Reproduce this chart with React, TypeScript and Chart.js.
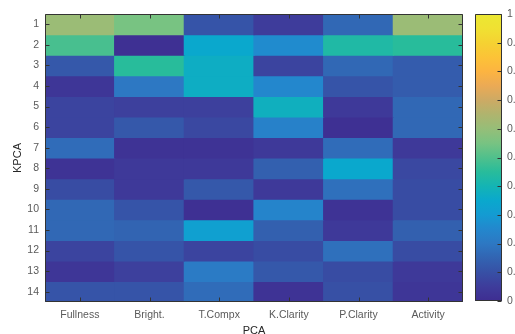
import { useEffect, useRef } from "react";
import { Chart, registerables } from "chart.js";

Chart.register(...registerables);

// ---- data ----
const columns = ["Fullness", "Bright.", "T.Compx", "K.Clarity", "P.Clarity", "Activity"];
const rowLabels = [1, 2, 3, 4, 5, 6, 7, 8, 9, 10, 11, 12, 13, 14];

const fullness = [0.61, 0.49, 0.12, 0.03, 0.07, 0.07, 0.17, 0.02, 0.09, 0.16, 0.16, 0.07, 0.03, 0.11];
const bright = [0.55, 0.01, 0.45, 0.2, 0.06, 0.12, 0.02, 0.04, 0.04, 0.11, 0.15, 0.11, 0.06, 0.11];
const tCompx = [0.11, 0.35, 0.37, 0.37, 0.06, 0.08, 0.02, 0.04, 0.12, 0.01, 0.32, 0.07, 0.21, 0.17];
const kClarity = [0.05, 0.26, 0.07, 0.25, 0.38, 0.23, 0.04, 0.14, 0.04, 0.24, 0.14, 0.09, 0.12, 0.02];
const pClarity = [0.16, 0.43, 0.16, 0.11, 0.04, 0.01, 0.17, 0.35, 0.18, 0.02, 0.04, 0.18, 0.09, 0.1];
const activity = [0.61, 0.45, 0.13, 0.13, 0.16, 0.16, 0.04, 0.08, 0.09, 0.09, 0.14, 0.09, 0.04, 0.03];

const matrix = [fullness, bright, tCompx, kClarity, pClarity, activity];

const colorbarTicks = [0, 0.1, 0.2, 0.3, 0.4, 0.5, 0.6, 0.7, 0.8, 0.9, 1];

// parula-like colormap (as rendered in the reference)
const cmapStops: number[][] = [
  [0.0, 62, 45, 145],
  [0.05, 62, 60, 155],
  [0.1, 55, 80, 165],
  [0.15, 50, 100, 178],
  [0.2, 45, 120, 195],
  [0.25, 35, 135, 205],
  [0.3, 20, 155, 210],
  [0.35, 10, 168, 205],
  [0.4, 20, 180, 180],
  [0.45, 40, 188, 155],
  [0.5, 80, 192, 140],
  [0.55, 120, 195, 130],
  [0.6, 150, 190, 120],
  [0.65, 175, 180, 110],
  [0.7, 205, 170, 100],
  [0.75, 235, 170, 85],
  [0.8, 252, 180, 65],
  [0.85, 252, 195, 55],
  [0.9, 245, 210, 50],
  [0.95, 240, 225, 50],
  [1.0, 235, 232, 50],
];

function cmap(v: number): string {
  const t = Math.max(0, Math.min(1, v));
  for (let i = 1; i < cmapStops.length; i++) {
    const a = cmapStops[i - 1];
    const b = cmapStops[i];
    if (t <= b[0]) {
      const f = (t - a[0]) / (b[0] - a[0]);
      const r = Math.round(a[1] + (b[1] - a[1]) * f);
      const g = Math.round(a[2] + (b[2] - a[2]) * f);
      const bl = Math.round(a[3] + (b[3] - a[3]) * f);
      return `rgb(${r},${g},${bl})`;
    }
  }
  const l = cmapStops[cmapStops.length - 1];
  return `rgb(${l[1]},${l[2]},${l[3]})`;
}

const FONT = "'Liberation Sans', Arial, Helvetica, sans-serif";
const TICK_COLOR = "#5a5a5a";
const TITLE_COLOR = "#262626";
const AXIS_COLOR = "#333333";

const framePlugin = {
  id: "frame",
  afterDatasetsDraw(chart: any) {
    const { ctx, chartArea } = chart;
    const { left, right, top, bottom } = chartArea;
    const xs = chart.scales.x;
    const ys = chart.scales.y;
    ctx.save();
    ctx.strokeStyle = AXIS_COLOR;
    ctx.lineWidth = 1;
    ctx.beginPath();
    const L = Math.round(left) + 0.5;
    const R = Math.round(right) - 0.5;
    const T = Math.round(top) + 0.5;
    const B = Math.round(bottom) - 0.5;
    ctx.rect(L, T, R - L, B - T);
    const tl = 4;
    columns.forEach((_, j) => {
      const x = Math.round(xs.getPixelForValue(j)) + 0.5;
      ctx.moveTo(x, T);
      ctx.lineTo(x, T + tl);
      ctx.moveTo(x, B);
      ctx.lineTo(x, B - tl);
    });
    rowLabels.forEach((r) => {
      const y = Math.round(ys.getPixelForValue(r)) + 0.5;
      ctx.moveTo(L, y);
      ctx.lineTo(L + tl, y);
      ctx.moveTo(R, y);
      ctx.lineTo(R - tl, y);
    });
    ctx.stroke();
    ctx.restore();
  },
};

const colorbarPlugin = {
  id: "colorbar",
  beforeDatasetsDraw(chart: any) {
    const { ctx, chartArea } = chart;
    const { left, right, top, bottom } = chartArea;
    const ys = chart.scales.y;
    const y0 = ys.getPixelForValue(0);
    const y1 = ys.getPixelForValue(1);
    const grad = ctx.createLinearGradient(0, y0, 0, y1);
    cmapStops.forEach((s) => grad.addColorStop(s[0], cmap(s[0])));
    ctx.save();
    ctx.fillStyle = grad;
    ctx.fillRect(left, top, right - left, bottom - top);
    ctx.strokeStyle = AXIS_COLOR;
    ctx.lineWidth = 1;
    const L = Math.round(left) + 0.5;
    const R = Math.round(right) - 0.5;
    const T = Math.round(top) + 0.5;
    const B = Math.round(bottom) - 0.5;
    ctx.beginPath();
    ctx.rect(L, T, R - L, B - T);
    colorbarTicks.forEach((v) => {
      const y = Math.round(ys.getPixelForValue(v)) + 0.5;
      ctx.moveTo(R, y);
      ctx.lineTo(R - 4, y);
    });
    ctx.stroke();
    ctx.restore();
  },
};

export default function App() {
  const mainRef = useRef<HTMLCanvasElement | null>(null);
  const barRef = useRef<HTMLCanvasElement | null>(null);

  useEffect(() => {
    if (!mainRef.current || !barRef.current) return;

    const main = new Chart(mainRef.current, {
      type: "bar",
      data: {
        labels: columns,
        datasets: rowLabels.map((r, i) => ({
          label: String(r),
          data: columns.map(() => [r - 0.5, r + 0.5]),
          backgroundColor: columns.map((_, j) => cmap(matrix[j][i])),
          borderWidth: 0,
          grouped: false,
          barPercentage: 1,
          categoryPercentage: 1,
          inflateAmount: 0.6,
        })) as any,
      },
      options: {
        responsive: false,
        animation: false,
        events: [],
        layout: { padding: { left: 0, top: 14, right: 52, bottom: 0 } },
        plugins: { legend: { display: false }, tooltip: { enabled: false } },
        scales: {
          x: {
            type: "category",
            offset: true,
            grid: { display: false, drawTicks: false },
            border: { display: false },
            ticks: {
              color: TICK_COLOR,
              font: { family: FONT, size: 10.5 },
              padding: 7,
              maxRotation: 0,
              autoSkip: false,
            },
            title: {
              display: true,
              text: "PCA",
              color: TITLE_COLOR,
              font: { family: FONT, size: 11 },
              padding: { top: 0, bottom: 2 },
            },
            afterFit: (s: any) => {
              s.height = 38;
            },
          },
          y: {
            type: "linear",
            min: 0.5,
            max: 14.5,
            reverse: true,
            grid: { display: false, drawTicks: false },
            border: { display: false },
            afterBuildTicks: (s: any) => {
              s.ticks = rowLabels.map((v) => ({ value: v }));
            },
            ticks: {
              color: TICK_COLOR,
              font: { family: FONT, size: 10.5 },
              padding: 6,
            },
            title: {
              display: true,
              text: "KPCA",
              color: TITLE_COLOR,
              font: { family: FONT, size: 11 },
              padding: { top: 11, bottom: 0 },
            },
            afterFit: (s: any) => {
              s.width = 45;
            },
          },
        },
      } as any,
      plugins: [framePlugin],
    });

    const bar = new Chart(barRef.current, {
      type: "bar",
      data: { labels: [""], datasets: [{ data: [], backgroundColor: "transparent" }] },
      options: {
        responsive: false,
        animation: false,
        events: [],
        layout: { padding: { left: 5, top: 14, right: 0, bottom: 39 } },
        plugins: { legend: { display: false }, tooltip: { enabled: false } },
        scales: {
          x: { display: false },
          y: {
            type: "linear",
            position: "right",
            min: 0,
            max: 1,
            grid: { display: false, drawTicks: false },
            border: { display: false },
            afterBuildTicks: (s: any) => {
              s.ticks = colorbarTicks.map((v) => ({ value: v }));
            },
            ticks: {
              color: TICK_COLOR,
              font: { family: FONT, size: 10.5 },
              padding: 5,
              callback: (v: any) => String(v),
            },
            afterFit: (s: any) => {
              s.width = 13;
            },
          },
        },
      } as any,
      plugins: [colorbarPlugin],
    });

    return () => {
      main.destroy();
      bar.destroy();
    };
  }, []);

  return (
    <div
      style={{
        position: "fixed",
        left: 0,
        top: 0,
        width: 515,
        height: 334,
        overflow: "hidden",
        background: "#ffffff",
      }}
    >
      <canvas
        ref={mainRef}
        width={515}
        height={340}
        style={{ position: "absolute", left: 0, top: 0, width: 515, height: 340 }}
      />
      <canvas
        ref={barRef}
        width={45}
        height={340}
        style={{ position: "absolute", left: 470, top: 0, width: 45, height: 340 }}
      />
    </div>
  );
}
